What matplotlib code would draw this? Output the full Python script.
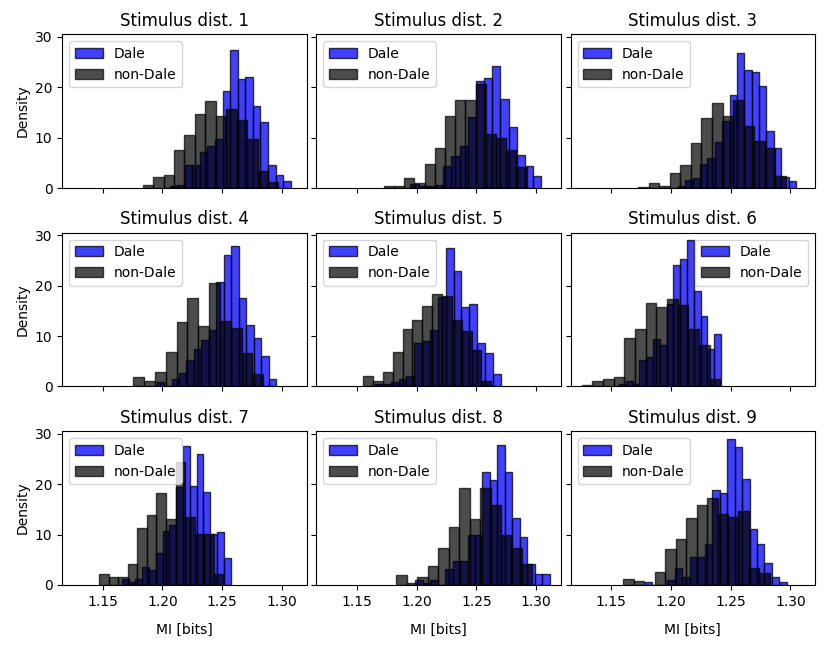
import numpy as np
import matplotlib
matplotlib.use("Agg")
import matplotlib.pyplot as plt

# histogram densities, one list per stimulus distribution
titles = ["Stimulus dist. %d" % (i + 1) for i in range(9)]

dale_start = [1.2060, 1.1949, 1.2060, 1.1952, 1.1653, 1.1568, 1.1662, 1.1989, 1.1784]
dale_width = [0.00634, 0.00684, 0.00617, 0.00625, 0.00657, 0.00568, 0.00568, 0.00625, 0.00625]
dale_dens = [
    [0.4, 0.5, 4.5, 4.5, 7.2, 8.3, 9.8, 19.2, 27.4, 21.7, 22.1, 16.2, 13.1, 4.5, 2.6, 1.4],
    [0.8, 0.3, 0.3, 0.5, 4.4, 6.3, 8.3, 14.2, 21.3, 21.8, 24.3, 17.6, 12.2, 6.6, 4.4, 2.4],
    [0.4, 1.5, 2.0, 4.7, 5.9, 9.2, 13.4, 18.5, 26.8, 23.5, 23.0, 20.2, 11.4, 7.9, 2.2, 1.4],
    [0.9, 0.0, 1.5, 2.7, 5.3, 7.5, 9.2, 11.3, 20.7, 26.1, 27.8, 17.5, 12.2, 9.6, 6.0, 1.5],
    [0.5, 0.5, 0.9, 1.5, 2.0, 8.6, 9.1, 11.2, 17.8, 27.5, 22.9, 15.7, 16.3, 8.6, 6.6, 2.5],
    [0.5, 1.1, 0.5, 5.3, 5.9, 9.5, 8.2, 16.4, 24.2, 25.3, 29.1, 18.9, 14.0, 7.4, 10.5],
    [1.1, 0.5, 1.1, 3.6, 3.0, 6.4, 10.7, 11.8, 19.4, 27.6, 19.6, 26.1, 18.4, 10.2, 10.5, 5.3],
    [0.9, 0.4, 0.9, 0.0, 3.1, 4.8, 4.8, 10.0, 10.0, 22.5, 20.9, 27.8, 22.5, 13.3, 9.5, 4.1, 2.1, 2.1],
    [0.5, 0.0, 0.0, 1.0, 3.3, 1.6, 5.5, 5.5, 8.2, 18.9, 18.3, 29.0, 27.3, 21.0, 11.2, 8.2, 4.3, 1.6, 0.5],
]

nondale_start = [1.1835, 1.1727, 1.1727, 1.1756, 1.1554, 1.1256, 1.1472, 1.1832, 1.1602]
nondale_width = [0.00874, 0.00852, 0.00883, 0.00907, 0.00824, 0.00892, 0.00798, 0.00874, 0.00877]
nondale_dens = [
    [0.6, 2.2, 2.6, 7.5, 10.6, 14.7, 17.2, 14.4, 15.7, 13.6, 9.8, 3.4, 1.25],
    [0.3, 0.3, 1.9, 0.9, 4.7, 7.9, 14.3, 17.4, 17.4, 20.7, 10.7, 9.9, 7.5, 4.2],
    [0.2, 0.9, 0.3, 3.0, 4.5, 9.0, 14.0, 16.9, 14.3, 17.4, 12.4, 9.3, 7.9, 2.3],
    [1.8, 1.0, 2.8, 6.9, 12.8, 17.6, 12.1, 20.6, 13.1, 11.6, 6.6, 2.4],
    [2.0, 1.1, 2.8, 6.9, 11.5, 13.2, 15.9, 18.4, 17.9, 13.2, 11.0, 7.2, 1.1],
    [0.3, 1.0, 1.5, 1.8, 9.7, 11.4, 16.6, 15.8, 17.4, 16.2, 11.4, 8.2, 1.5],
    [2.1, 1.6, 1.6, 4.1, 11.4, 13.9, 18.2, 13.0, 24.5, 13.5, 10.2, 10.2, 2.1],
    [1.9, 0.3, 1.5, 3.8, 7.3, 11.5, 19.2, 13.0, 19.2, 15.8, 10.0, 7.3, 4.1],
    [1.1, 0.7, 0.0, 2.6, 7.2, 9.2, 13.2, 15.9, 17.3, 14.1, 13.5, 14.7, 3.4, 2.3],
]

legend_loc = ["upper left"] * 9
legend_loc[5] = "upper right"

fig, axs = plt.subplots(3, 3, figsize=(8.3, 6.7), sharex=True, sharey=True)
fig.subplots_adjust(left=0.075, right=0.982, top=0.949, bottom=0.127,
                    wspace=0.04, hspace=0.29)

for i, ax in enumerate(axs.flat):
    d = np.array(dale_dens[i])
    d_edges = dale_start[i] + dale_width[i] * np.arange(len(d) + 1)
    ax.hist(d_edges[:-1], bins=d_edges, weights=d, color="blue", alpha=0.75,
            edgecolor="black", linewidth=1, label="Dale")

    n = np.array(nondale_dens[i])
    n_edges = nondale_start[i] + nondale_width[i] * np.arange(len(n) + 1)
    ax.hist(n_edges[:-1], bins=n_edges, weights=n, color="black", alpha=0.7,
            edgecolor="black", linewidth=1, label="non-Dale")

    ax.set_title(titles[i])
    ax.legend(loc=legend_loc[i])
    if i % 3 == 0:
        ax.set_ylabel("Density")
    if i >= 6:
        ax.set_xlabel("MI [bits]", labelpad=10)

axs[0, 0].set_xticks([1.15, 1.20, 1.25, 1.30])
axs[0, 0].set_yticks([0, 10, 20, 30])

plt.savefig("out.png", dpi=100)
